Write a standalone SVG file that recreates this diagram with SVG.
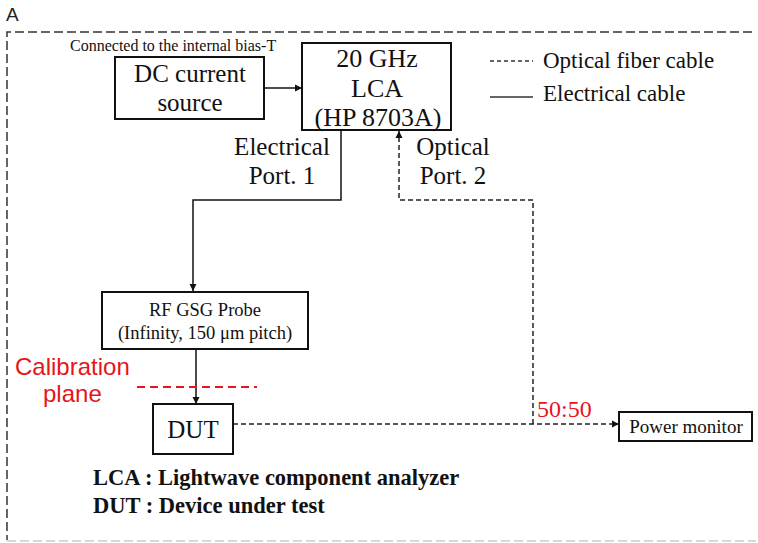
<svg xmlns="http://www.w3.org/2000/svg" width="758" height="543" viewBox="0 0 758 543">
<defs>
<marker id="ah" markerWidth="8" markerHeight="8" refX="7" refY="4" orient="auto" markerUnits="userSpaceOnUse">
<path d="M0,0.5 L7,4 L0,7.5 Z" fill="#111"/>
</marker>
</defs>
<style>
.box{fill:#fff;stroke:#111;stroke-width:2}
.t{font-family:"Liberation Serif","Times New Roman",serif;fill:#111}
.s{font-family:"Liberation Sans",Arial,sans-serif}
.el{fill:none;stroke:#111;stroke-width:1.5}
.op{fill:none;stroke:#222;stroke-width:1.5;stroke-dasharray:5 3}
.red{fill:#e8141c}
</style>
<rect width="758" height="543" fill="#fff"/>
<text x="6" y="21" class="s" font-size="19" fill="#222">A</text>
<g id="frame">
<path d="M752,32 H7 V540" fill="none" stroke="#333" stroke-width="1.5" stroke-dasharray="9 4"/>
<path d="M7,541 H756" fill="none" stroke="#ccc" stroke-width="1.5" stroke-dasharray="9 4"/>
</g>
<g id="connectors">
<path class="el" d="M264,88 H302" marker-end="url(#ah)"/>
<path class="el" d="M341,130 V200 H193 V291" marker-end="url(#ah)"/>
<path class="el" d="M196,349 V404" marker-end="url(#ah)"/>
<path class="op" d="M533,424 V200 H399 V131" marker-end="url(#ah)"/>
<path class="op" d="M233,424 H619" marker-end="url(#ah)"/>
</g>
<g id="dc-source">
<rect class="box" x="115" y="57" width="149" height="62"/>
<text class="t" font-size="25" text-anchor="middle" x="190" y="82">DC current</text>
<text class="t" font-size="25" text-anchor="middle" x="190" y="111">source</text>
</g>
<text class="t" font-size="16" x="70" y="51">Connected to the internal bias-T</text>
<g id="lca">
<rect class="box" x="302" y="43" width="149" height="87"/>
<text class="t" font-size="26" text-anchor="middle" x="377" y="67">20 GHz</text>
<text class="t" font-size="26" text-anchor="middle" x="377" y="97">LCA</text>
<text class="t" font-size="26" text-anchor="middle" x="378" y="126">(HP 8703A)</text>
</g>
<g id="legend">
<path d="M490,61 H533" fill="none" stroke="#333" stroke-width="1.3" stroke-dasharray="4 3"/>
<path d="M490,97 H533" fill="none" stroke="#333" stroke-width="1.5"/>
<text class="t" font-size="23" x="543" y="68">Optical fiber cable</text>
<text class="t" font-size="23" x="543" y="101">Electrical cable</text>
</g>
<g id="port-labels">
<text class="t" font-size="25" text-anchor="middle" x="282" y="155">Electrical</text>
<text class="t" font-size="25" text-anchor="middle" x="282" y="184">Port. 1</text>
<text class="t" font-size="25" text-anchor="middle" x="453" y="155">Optical</text>
<text class="t" font-size="25" text-anchor="middle" x="453" y="184">Port. 2</text>
</g>
<g id="probe">
<rect class="box" x="102" y="292" width="206" height="57"/>
<text class="t" font-size="18.5" text-anchor="middle" x="205" y="316">RF GSG Probe</text>
<text class="t" font-size="18.5" text-anchor="middle" x="205" y="339">(Infinity, 150 μm pitch)</text>
</g>
<g id="calibration">
<path d="M137,387 H257" fill="none" stroke="#e8141c" stroke-width="2" stroke-dasharray="8 5"/>
<text class="s red" font-size="24" x="15" y="375">Calibration</text>
<text class="s red" font-size="24" x="43" y="402">plane</text>
</g>
<g id="dut">
<rect class="box" x="153" y="404" width="80" height="50"/>
<text class="t" font-size="25" text-anchor="middle" x="193" y="438">DUT</text>
</g>
<text class="t red" font-size="24" x="537" y="417">50:50</text>
<g id="power-monitor">
<rect class="box" x="619" y="412" width="133" height="29"/>
<text class="t" font-size="19" text-anchor="middle" x="686" y="433">Power monitor</text>
</g>
<g id="notes">
<text class="t" font-size="22.5" font-weight="bold" x="93" y="485">LCA : Lightwave component analyzer</text>
<text class="t" font-size="22.5" font-weight="bold" x="93" y="513">DUT : Device under test</text>
</g>
</svg>
